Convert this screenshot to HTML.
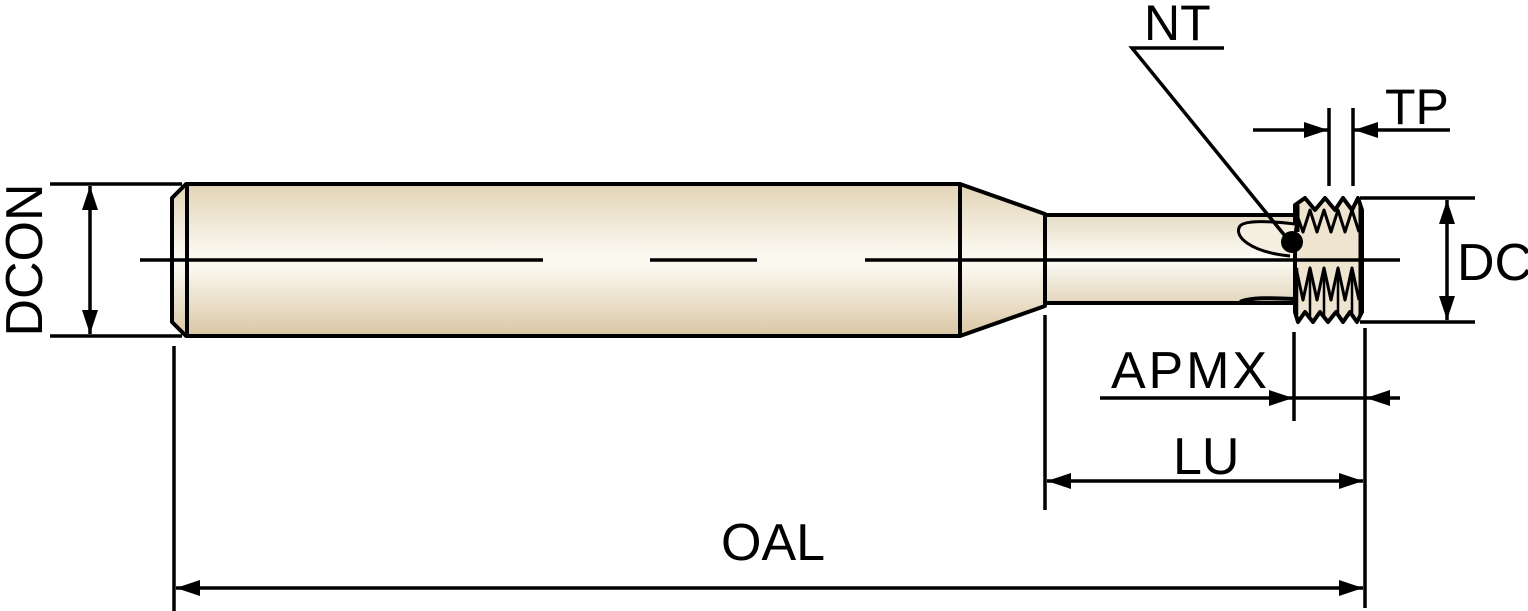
<!DOCTYPE html>
<html><head><meta charset="utf-8"><style>
html,body{margin:0;padding:0;background:#fff;width:1528px;height:611px;overflow:hidden}
text{font-family:"Liberation Sans",sans-serif;fill:#000}
</style></head><body>
<svg width="1528" height="611" viewBox="0 0 1528 611" xmlns="http://www.w3.org/2000/svg">
<defs>
<linearGradient id="g" x1="0" y1="0" x2="0" y2="1">
<stop offset="0" stop-color="#e2d3b5"/><stop offset="0.45" stop-color="#fbf8f0"/><stop offset="0.55" stop-color="#fbf8f0"/><stop offset="1" stop-color="#d9c7a3"/>
</linearGradient>
<linearGradient id="g2" x1="0" y1="0" x2="0" y2="1">
<stop offset="0" stop-color="#e6dcc6"/><stop offset="0.5" stop-color="#fdfcf7"/><stop offset="1" stop-color="#e2d6bc"/>
</linearGradient>
<marker id="a" viewBox="0 0 24 16" refX="24" refY="8" markerWidth="24" markerHeight="16" markerUnits="userSpaceOnUse" orient="auto-start-reverse"><path d="M0,0 L24,8 L0,16 Z" fill="#000"/></marker>
</defs>
<g stroke="#000" stroke-width="4" stroke-linejoin="round">
<path d="M186,184 L960,184 L1045,214 L1045,306 L960,336 L186,336 L172,322 L172,198 Z" fill="url(#g)"/>
<line x1="187" y1="184" x2="187" y2="336"/>
<line x1="960" y1="184" x2="960" y2="336"/>
<path d="M1045,215 L1295,215 L1295,303 L1045,303 Z" fill="url(#g2)"/>
<!-- head -->
<path d="M1295,215 L1295,205 L1305,198 L1315,210 L1325,198 L1335,210 L1343,198 L1352,210 L1358,198 L1362,210 L1362,312 L1357,322 L1350,312 L1343,322 L1336,312 L1328,322 L1320,312 L1313,322 L1305,312 L1298,322 L1295,312 Z" fill="#eee4d0"/>
<path d="M1296,212 L1303,232 L1310,210 L1317,232 L1324,210 L1331,232 L1338,210 L1345,232 L1352,210 L1359,232" fill="none" stroke-width="3"/>
<path d="M1296,268 L1303,300 L1310,268 L1317,300 L1324,268 L1331,300 L1338,268 L1345,300 L1352,268 L1359,300" fill="none" stroke-width="3"/>
<path d="M1297,268 L1297,315 M1310,270 L1310,316 M1324,270 L1324,316 M1338,270 L1338,316 M1352,270 L1352,316" fill="none" stroke-width="2.5"/>
<path d="M1298,205 L1298,232 M1360,205 L1360,316" fill="none" stroke-width="3"/>
<path d="M1295,224 C1270,221 1245,220 1240,226 C1233,236 1250,252 1290,256" fill="#f5efe2" stroke-width="3"/>
<path d="M1240,302 C1250,297 1275,298 1295,299" fill="none" stroke-width="4"/>
<circle cx="1292" cy="242" r="11" fill="#000" stroke="none"/>
</g>
<g stroke="#000" stroke-width="3.5" fill="none">
<line x1="140" y1="260" x2="543" y2="260"/>
<line x1="650" y1="260" x2="757" y2="260"/>
<line x1="865" y1="260" x2="1400" y2="260"/>
<line x1="50" y1="184" x2="182" y2="184"/>
<line x1="50" y1="336" x2="182" y2="336"/>
<line x1="90" y1="186" x2="90" y2="334" marker-start="url(#a)" marker-end="url(#a)"/>
<line x1="1360" y1="198" x2="1475" y2="198"/>
<line x1="1360" y1="322" x2="1475" y2="322"/>
<line x1="1447" y1="200" x2="1447" y2="320" marker-start="url(#a)" marker-end="url(#a)"/>
<line x1="1329" y1="108" x2="1329" y2="186"/>
<line x1="1353" y1="108" x2="1353" y2="186"/>
<line x1="1253" y1="130" x2="1328" y2="130" marker-end="url(#a)"/>
<line x1="1450" y1="130" x2="1354" y2="130" marker-end="url(#a)"/>
<polyline points="1224,48 1132,48 1290,242"/>
<line x1="1294" y1="332" x2="1294" y2="421"/>
<line x1="1365" y1="328" x2="1365" y2="608"/>
<line x1="1100" y1="398" x2="1293" y2="398" marker-end="url(#a)"/>
<line x1="1400" y1="398" x2="1366" y2="398" marker-end="url(#a)"/>
<line x1="1293" y1="398" x2="1366" y2="398"/>
<line x1="1045" y1="315" x2="1045" y2="510"/>
<line x1="1047" y1="481" x2="1363" y2="481" marker-start="url(#a)" marker-end="url(#a)"/>
<line x1="174" y1="346" x2="174" y2="611"/>
<line x1="176" y1="588" x2="1363" y2="588" marker-start="url(#a)" marker-end="url(#a)"/>
</g>
<text x="1144" y="40" font-size="50">NT</text>
<text x="1385" y="124" font-size="50">TP</text>
<text x="1457" y="280" font-size="52">DC</text>
<text x="1111" y="388" font-size="52" textLength="156">APMX</text>
<text x="1173" y="474" font-size="52">LU</text>
<text x="721" y="560" font-size="52">OAL</text>
<text transform="translate(42,260) rotate(-90)" text-anchor="middle" font-size="52">DCON</text>
</svg>
</body></html>
